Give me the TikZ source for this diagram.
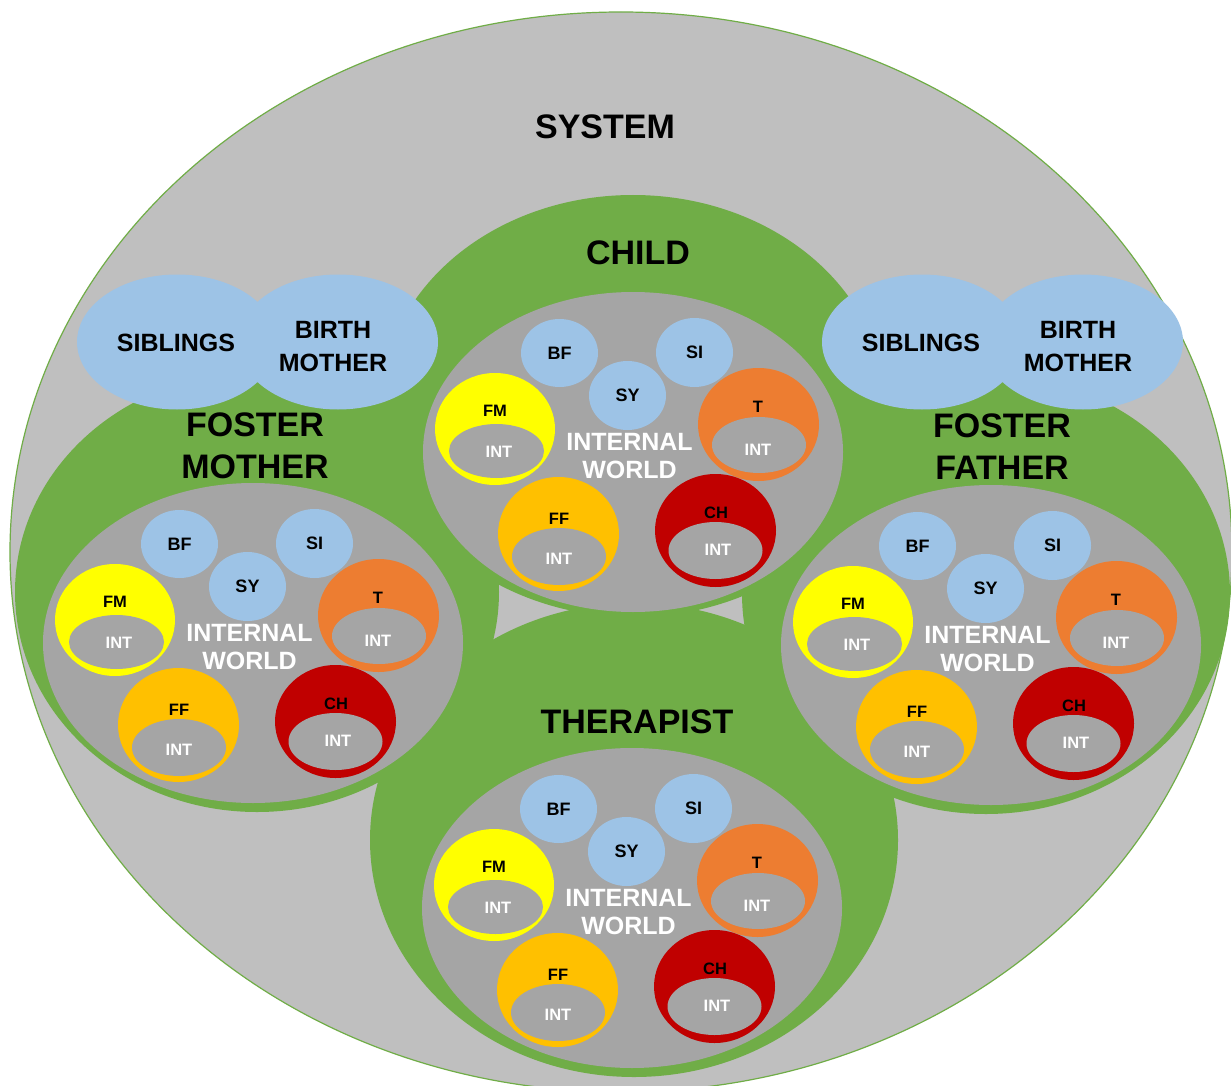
\documentclass[tikz,border=0pt]{standalone}
\usepackage{fontspec}
\setmainfont{Liberation Sans}
\usetikzlibrary{shapes.geometric}

\definecolor{sysgray}{HTML}{BFBFBF}
\definecolor{grpgreen}{HTML}{70AD47}
\definecolor{iwgray}{HTML}{A5A5A5}
\definecolor{relblue}{HTML}{9DC3E6}
\definecolor{fmyellow}{HTML}{FFFF00}
\definecolor{torange}{HTML}{ED7D31}
\definecolor{ffgold}{HTML}{FFC000}
\definecolor{chred}{HTML}{C00000}

\tikzset{
  blob/.style={ellipse, inner sep=0pt, outer sep=0pt},
  title/.style={font=\fontsize{34}{42}\selectfont\bfseries, text=black, align=center, inner sep=0pt},
  pairtext/.style={font=\fontsize{25}{33}\selectfont\bfseries, text=black, align=center, inner sep=0pt},
  iwlabel/.style={font=\fontsize{25}{28}\selectfont\bfseries, text=white, align=center, inner sep=0pt},
  tag/.style={font=\fontsize{18}{18}\selectfont\bfseries, text=black},
  mtag/.style={font=\fontsize{16.5}{17}\selectfont\bfseries, text=black, inner sep=0pt},
  inttag/.style={font=\fontsize{16.5}{17}\selectfont\bfseries, text=white, inner sep=0pt}
}

% One "internal world": grey ellipse with the relational figures inside
\newcommand\drawinnerworld[3]{%
\begin{scope}[shift={(#2,#3)}]
  \node[blob, fill=iwgray, minimum width=420pt, minimum height=320pt] (#1) at (0,0) {};
  \node[blob, fill=relblue, minimum width=77pt, minimum height=68pt, tag] (#1-bf) at (-73.5,-99) {BF};
  \node[blob, fill=relblue, minimum width=77pt, minimum height=69pt, tag] (#1-si) at (61.5,-99.5) {SI};
  \node[blob, fill=relblue, minimum width=77pt, minimum height=69pt, tag] (#1-sy) at (-5.5,-56.5) {SY};
  % foster mother
  \node[blob, fill=fmyellow, minimum width=120pt, minimum height=112pt] (#1-fm) at (-138,-23) {};
  \node[blob, fill=iwgray, minimum width=95pt, minimum height=54pt] (#1-fmi) at (-136.5,-1) {};
  \node[mtag] (#1-fm-l) at (-138,-41) {FM};
  \node[inttag] (#1-fmi-l) at (-134,0) {INT};
  % therapist
  \node[blob, fill=torange, minimum width=121pt, minimum height=113pt] (#1-t) at (125.5,-27.5) {};
  \node[blob, fill=iwgray, minimum width=94pt, minimum height=56pt] (#1-ti) at (126,-7) {};
  \node[mtag] (#1-t-l) at (125,-45) {T};
  \node[inttag] (#1-ti-l) at (125,-2) {INT};
  % foster father
  \node[blob, fill=ffgold, minimum width=121pt, minimum height=114pt] (#1-ff) at (-74.5,82) {};
  \node[blob, fill=iwgray, minimum width=94pt, minimum height=57pt] (#1-ffi) at (-74,104.5) {};
  \node[mtag] (#1-ff-l) at (-74,67) {FF};
  \node[inttag] (#1-ffi-l) at (-74,107) {INT};
  % child
  \node[blob, fill=chred, minimum width=121pt, minimum height=113pt] (#1-ch) at (82.5,78.5) {};
  \node[blob, fill=iwgray, minimum width=94pt, minimum height=57pt] (#1-chi) at (82.5,98.5) {};
  \node[mtag] (#1-ch-l) at (83,61) {CH};
  \node[inttag] (#1-chi-l) at (85,98) {INT};
  \node[iwlabel] (#1-lab) at (-3.5,4) {INTERNAL\\WORLD};
\end{scope}}

\begin{document}
\begin{tikzpicture}[x=1pt, y=-1pt]
  \useasboundingbox (0,0) rectangle (1231,1086);
  \clip (0,0) rectangle (1231,1086);
  \fill[white] (0,0) rectangle (1231,1086);

  % the whole system
  \node[blob, fill=sysgray, draw=grpgreen, line width=1.2pt,
        minimum width=1222pt, minimum height=1080pt] (system) at (621,552) {};

  % the four persons
  \node[blob, fill=grpgreen, minimum width=504pt, minimum height=422pt] (child) at (633,406) {};
  \node[blob, fill=grpgreen, minimum width=484pt, minimum height=440pt] (fostermother) at (257,592) {};
  \node[blob, fill=grpgreen, minimum width=488pt, minimum height=440pt] (fosterfather) at (986,594) {};
  \node[blob, fill=grpgreen, minimum width=528pt, minimum height=474pt] (therapist) at (634,840) {};

  % birth family
  \node[blob, fill=relblue, minimum width=200pt, minimum height=135pt] (sibL) at (177,342) {};
  \node[blob, fill=relblue, minimum width=200pt, minimum height=135pt] (bmL) at (338,342) {};
  \node[blob, fill=relblue, minimum width=200pt, minimum height=135pt] (sibR) at (922,342) {};
  \node[blob, fill=relblue, minimum width=200pt, minimum height=135pt] (bmR) at (1083,342) {};
  \node[pairtext] (sibL-t) at (176,343) {SIBLINGS};
  \node[pairtext] (bmL-t) at (333,346.5) {BIRTH\\MOTHER};
  \node[pairtext] (sibR-t) at (921,343) {SIBLINGS};
  \node[pairtext] (bmR-t) at (1078,346.5) {BIRTH\\MOTHER};

  % internal worlds
  \drawinnerworld{iwchild}{633}{452}
  \drawinnerworld{iwfm}{253}{643}
  \drawinnerworld{iwff}{991}{645}
  \drawinnerworld{iwther}{632}{908}

  % titles
  \node[title] (system-t) at (605,127) {SYSTEM};
  \node[title] (child-t) at (638,253) {CHILD};
  \node[title] (fostermother-t) at (255,445.5) {FOSTER\\MOTHER};
  \node[title] (fosterfather-t) at (1002,446.5) {FOSTER\\FATHER};
  \node[title] (therapist-t) at (637,722) {THERAPIST};
\end{tikzpicture}
\end{document}
